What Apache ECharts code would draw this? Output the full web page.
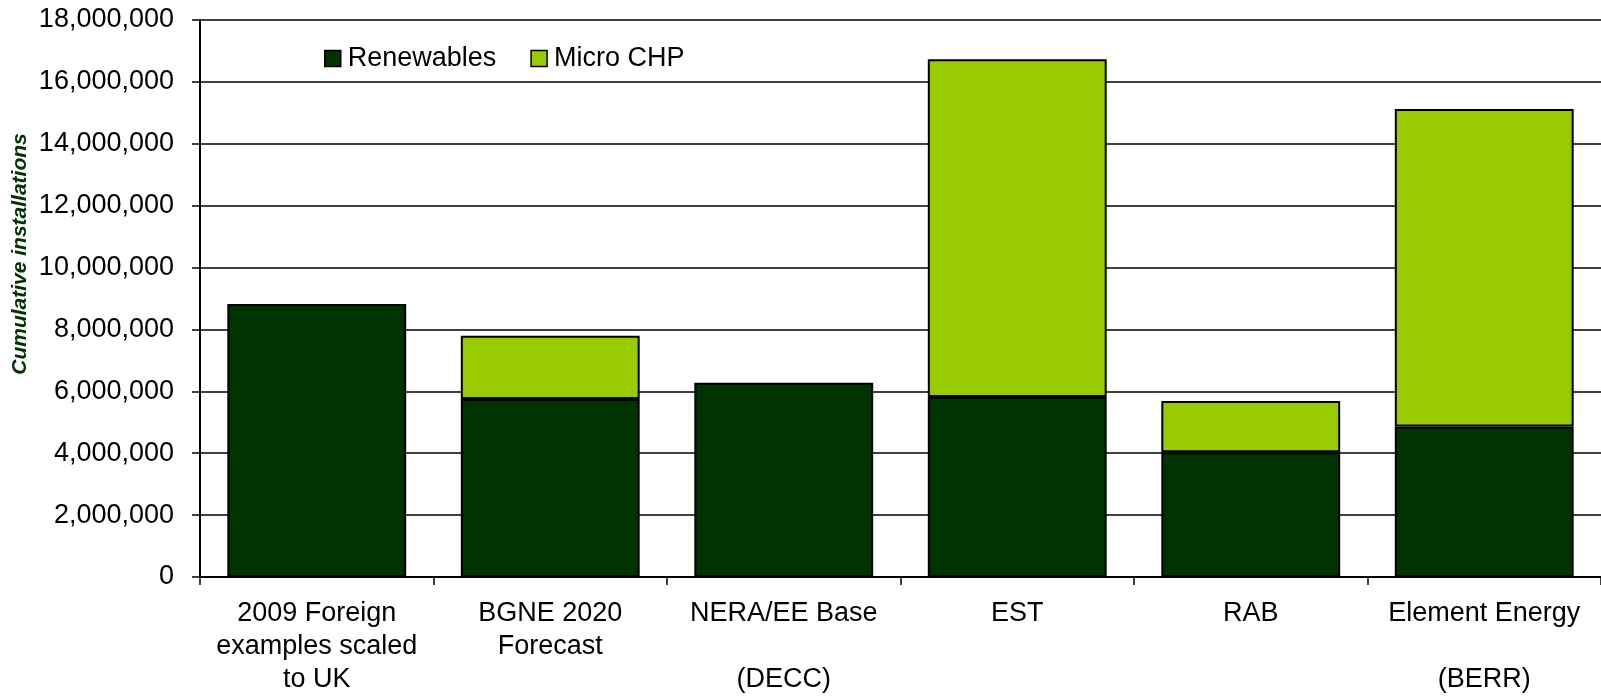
<!DOCTYPE html>
<html>
<head>
<meta charset="utf-8">
<script src="https://cdn.jsdelivr.net/npm/echarts@6/dist/echarts.min.js"></script>
<style>
  html, body { margin: 0; padding: 0; background: #fff; }
  #chart { width: 1601px; height: 698px; }
</style>
</head>
<body>
<div id="chart"></div>
<script>
// Cumulative domestic installations by scenario source
const categories = [
  '2009 Foreign\nexamples scaled\nto UK',
  'BGNE 2020\nForecast',
  'NERA/EE Base\n\n(DECC)',
  'EST',
  'RAB',
  'Element Energy\n\n(BERR)'
];
const renewables = [8820000, 5750000, 6280000, 5820000, 4030000, 4860000];
const microChp = [null, 2050000, null, 10910000, 1660000, 10260000];
const yTicks = { min: 0, max: 18000000, interval: 2000000 };
const axisTitle = 'Cumulative installations';

const FONT = '"Liberation Sans", Arial, sans-serif';

const chart = echarts.init(document.getElementById('chart'));
chart.setOption({
  animation: false,
  backgroundColor: '#ffffff',
  textStyle: { fontFamily: FONT },
  grid: { left: 200, top: 20, bottom: 121, right: -9, containLabel: false },
  legend: {
    left: 319,
    top: 40,
    itemWidth: 16,
    itemHeight: 16,
    itemGap: 34,
    icon: 'rect',
    textStyle: { fontFamily: FONT, fontSize: 27, color: '#000', padding: [0, 0, 0, 2] },
    data: [
      { name: 'Renewables', itemStyle: { color: '#003300', borderColor: '#000', borderWidth: 1.5 } },
      { name: 'Micro CHP', itemStyle: { color: '#99cc00', borderColor: '#000', borderWidth: 1.5 } }
    ]
  },
  graphic: [{
    type: 'text',
    x: 20,
    y: 254,
    rotation: Math.PI / 2,
    style: {
      text: axisTitle,
      fontFamily: FONT,
      fontSize: 21,
      fontWeight: 'bold',
      fontStyle: 'italic',
      fill: '#003300',
      align: 'center',
      verticalAlign: 'middle'
    }
  }],
  xAxis: {
    type: 'category',
    data: categories,
    axisLine: { lineStyle: { color: '#000', width: 2 } },
    axisTick: { show: true, length: 8, lineStyle: { color: '#000', width: 1.5 } },
    axisLabel: {
      fontFamily: FONT,
      fontSize: 27,
      lineHeight: 33,
      color: '#000',
      margin: 20,
      interval: 0,
      align: 'center'
    },
    splitLine: { show: false }
  },
  yAxis: {
    type: 'value',
    min: yTicks.min,
    max: yTicks.max,
    interval: yTicks.interval,
    axisLine: { show: true, lineStyle: { color: '#000', width: 2 } },
    axisTick: { show: true, length: 8, lineStyle: { color: '#000', width: 1.5 } },
    axisLabel: {
      fontFamily: FONT,
      fontSize: 27,
      color: '#000',
      margin: 26,
      formatter: v => v.toLocaleString('en-US')
    },
    splitLine: { show: true, lineStyle: { color: '#000', width: 1.5 } }
  },
  series: [
    {
      name: 'Renewables',
      type: 'bar',
      stack: 'total',
      barWidth: '76.6%',
      data: renewables,
      itemStyle: { color: '#003300', borderColor: '#000', borderWidth: 2 }
    },
    {
      name: 'Micro CHP',
      type: 'bar',
      stack: 'total',
      barWidth: '76.6%',
      data: microChp,
      itemStyle: { color: '#99cc00', borderColor: '#000', borderWidth: 2 }
    }
  ]
});
</script>
</body>
</html>
